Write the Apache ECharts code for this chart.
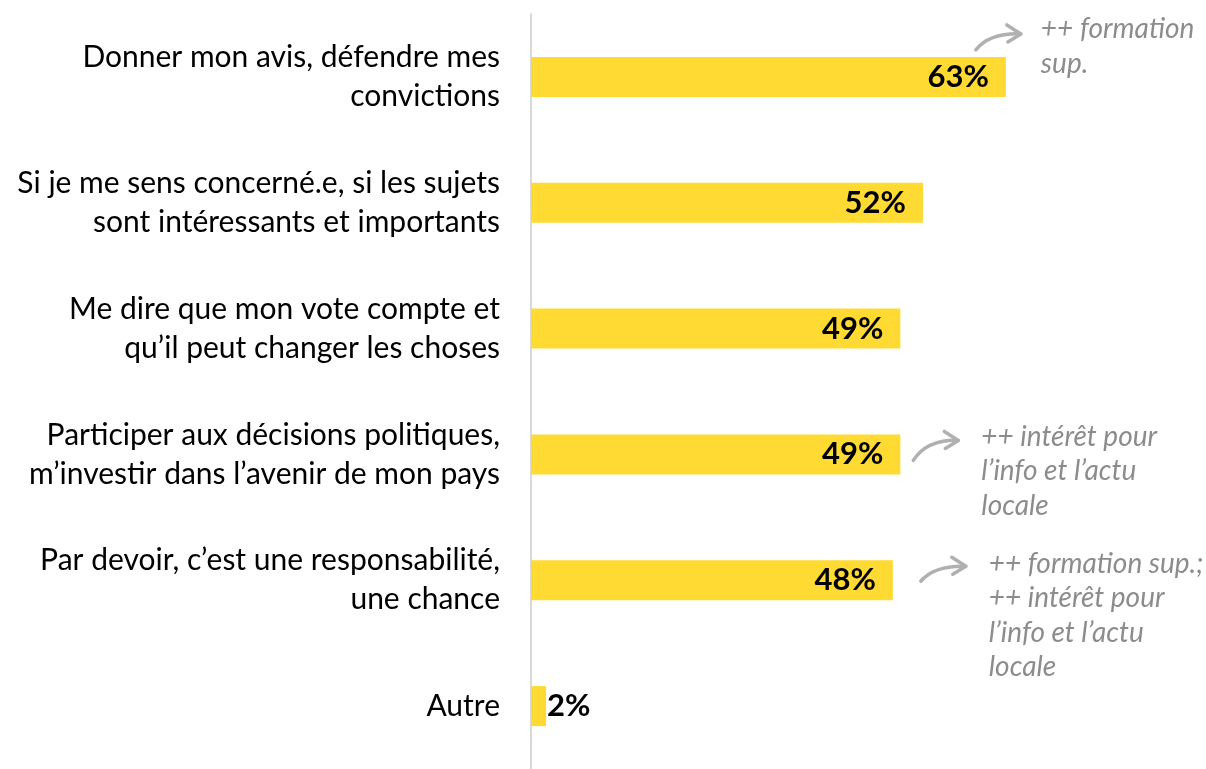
<!DOCTYPE html>
<html>
<head>
<meta charset="utf-8">
<script src="https://cdn.jsdelivr.net/npm/echarts@6/dist/echarts.min.js"></script>
<style>
html,body{margin:0;padding:0;background:#fff;}
#main{width:1206px;height:769px;}
</style>
</head>
<body>
<div id="main"></div>
<script>
const categories = [
  'Donner mon avis, défendre mes\nconvictions',
  'Si je me sens concerné.e, si les sujets\nsont intéressants et importants',
  'Me dire que mon vote compte et\nqu’il peut changer les choses',
  'Participer aux décisions politiques,\nm’investir dans l’avenir de mon pays',
  'Par devoir, c’est une responsabilité,\nune chance',
  'Autre'
];
const values = [63, 52, 49, 49, 48, 2];
const notes = [
  '++ formation\nsup.',
  '',
  '',
  '++ intérêt pour\nl’info et l’actu\nlocale',
  '++ formation sup.;\n++ intérêt pour\nl’info et l’actu\nlocale',
  ''
];

// layout offsets (relative to bar end) for annotations: arrow start, arrow end, text left/first-line center
const noteLayout = [
  {sx:-30, sy:-27, ex:15, ey:-43, tx:35, ty:-48},
  null, null,
  {sx:13, sy:6, ex:58, ey:-14, tx:81, ty:-18},
  {sx:28, sy:1, ex:73, ey:-14, tx:96, ty:-17},
  null
];

const FONT = 'Lato, "Open Sans", sans-serif';
const chart = echarts.init(document.getElementById('main'), null, {renderer:'canvas'});

const option = {
  animation: false,
  backgroundColor: '#ffffff',
  grid: {left: 531, top: 14, width: 603, height: 760, containLabel: false},
  xAxis: {type: 'value', min: 0, max: 80, show: false},
  yAxis: {
    type: 'category',
    inverse: true,
    data: categories,
    axisLine: {show: true, lineStyle: {color: '#D9D9D9', width: 2}},
    axisTick: {show: false},
    axisLabel: {
      margin: 31,
      color: '#000',
      fontFamily: FONT,
      fontSize: 30,
      lineHeight: 39,
      align: 'right'
    },
    splitLine: {show: false}
  },
  series: [{
    type: 'bar',
    data: values.map((v, i) => ({
      value: v,
      label: i === values.length - 1
        ? {position: 'right', distance: 1}
        : {position: 'insideRight', distance: 17}
    })),
    barWidth: 40,
    itemStyle: {color: '#FFDA33'},
    label: {
      show: true,
      formatter: '{c}%',
      color: '#000',
      fontFamily: FONT,
      fontWeight: 'bold',
      fontSize: 31
    }
  }]
};
chart.setOption(option);

const graphics = [];
values.forEach((v, i) => {
  if (!notes[i]) return;
  const L = noteLayout[i];
  const p = chart.convertToPixel({gridIndex: 0}, [v, i]);
  const x0 = p[0], y0 = p[1];
  const sx = x0 + L.sx, sy = y0 + L.sy, ex = x0 + L.ex, ey = y0 + L.ey;
  const cx = sx + (ex - sx) * 0.3, cy = ey - 1;
  graphics.push({
    type: 'bezierCurve',
    shape: {x1: sx, y1: sy, x2: ex, y2: ey, cpx1: cx, cpy1: cy},
    style: {stroke: '#B0B0B0', lineWidth: 3.5, fill: null, lineCap: 'round'}
  });
  graphics.push({
    type: 'polyline',
    shape: {points: [[ex - 14, ey - 9], [ex, ey], [ex - 13, ey + 8]]},
    style: {stroke: '#B0B0B0', lineWidth: 3.5, fill: null, lineCap: 'round', lineJoin: 'round'}
  });
  graphics.push({
    type: 'text',
    x: x0 + L.tx,
    y: y0 + L.ty - 17,
    style: {
      text: notes[i],
      fill: '#8C8C8C',
      font: 'italic 28px ' + FONT,
      lineHeight: 34.5,
      verticalAlign: 'top',
      align: 'left'
    }
  });
});
chart.setOption({graphic: graphics});
</script>
</body>
</html>
